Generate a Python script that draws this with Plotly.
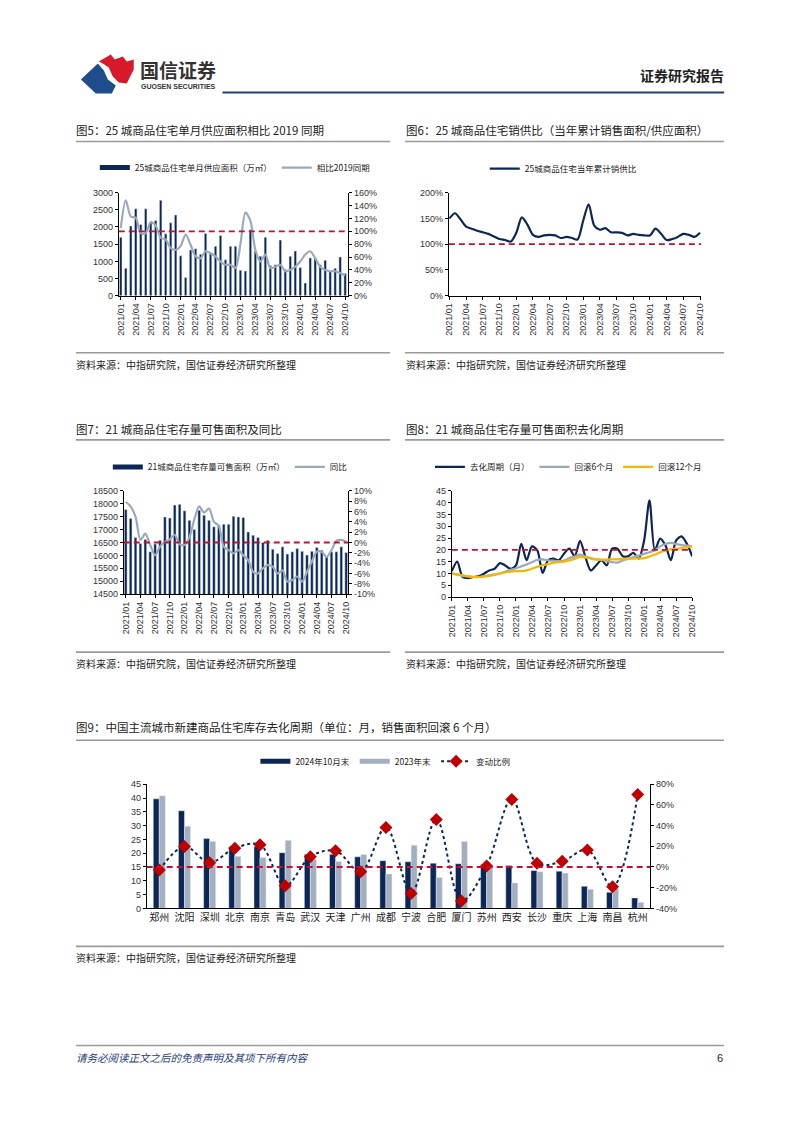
import plotly.graph_objects as go

# page is shown with the browser's default 8px body margin; keep the figure inside the window
OFF = 8
W, H = 802 - 2 * OFF, 1133 - 2 * OFF
K = 1 / 0.99          # small correction observed between planned and photographed positions
def fx(x): return ((401 + (x - 401) * K) - OFF) / W
def fy(y): return 1 - ((566 + (y - 566) * K) - OFF) / H

# ---------------- data ----------------
months = [f"{y}/{m:02d}" for y in range(2021, 2025) for m in range(1, 13)][:46]

supply25 = [1700, 800, 2030, 2530, 2070, 2530, 2140, 2190, 2780, 1800,
            2120, 2350, 1160, 530, 1330, 1370, 1210, 1810, 1220, 1440,
            1750, 1050, 1440, 1440, 740, 720, 1920, 1300, 1150, 1700,
            880, 900, 1620, 760, 1150, 1300, 820, 370, 1100, 1100,
            900, 1030, 720, 800, 1130, 650]
vs2019 = [105, 148, 123, 121, 97, 97, 114, 109, 90, 87,
          74, 71, 77, 95, 79, 61, 58, 69, 66, 61,
          53, 48, 48, 43, 80, 129, 116, 71, 53, 64,
          43, 45, 48, 38, 40, 45, 53, 64, 69, 58,
          45, 40, 38, 38, 35, 32]

ratio25 = [150, 160, 148, 134, 130, 126, 123, 120, 115, 110,
           108, 105, 122, 152, 138, 118, 114, 117, 118, 117,
           112, 114, 112, 109, 145, 177, 136, 128, 131, 123,
           123, 122, 117, 120, 118, 117, 117, 130, 120, 108,
           110, 114, 120, 118, 114, 122]

stock21 = [17780, 17430, 16690, 16460, 16620, 16140, 16440, 16590, 17490, 17450,
           17950, 17980, 17730, 17360, 17000, 17750, 17560, 17360, 17110, 17170,
           17210, 17210, 17520, 17490, 17470, 16910, 16780, 16690, 16500, 16590,
           16240, 16070, 16330, 16050, 16140, 16270, 16160, 16010, 16160, 16310,
           16200, 15950, 16140, 16140, 16330, 16110]
yoy21 = [7.9, 7.0, 5.0, 0.5, 1.7, -0.5, -2.5, -0.8, 0.1, 0.6,
         1.5, -0.3, -0.5, 1.0, 4.5, 7.0, 5.8, 6.6, 4.0, 3.2,
         -0.8, -1.5, -2.1, -1.5, -2.5, -3.4, -5.7, -6.0, -5.0, -4.4,
         -4.7, -6.0, -5.4, -7.6, -7.3, -6.6, -7.6, -5.7, -3.7, -1.8,
         -1.8, -2.8, -1.5, 0.3, 0.5, 0.1]

clear21 = [11, 15, 8.5, 8, 8.5, 8.8, 9.9, 11.3, 12, 14.4,
           13.4, 12, 13.4, 22.6, 15.6, 21.5, 19.8, 10.2, 15.6, 16.3,
           15.6, 18.4, 20.5, 17.3, 23.8, 17, 11.3, 13.4, 15.6, 13.4,
           20.5, 20.5, 17.3, 17.3, 18.7, 16.3, 24, 41, 19.8, 24.8,
           21.9, 15.6, 24, 25.7, 22.6, 17.3]
roll6 = [10, 9.5, 9, 8.8, 8.5, 8.5, 8.8, 9.2, 9.6, 10,
         10.8, 11.5, 12.2, 13, 13.8, 14.8, 15.8, 16, 15.6, 15.4,
         15.2, 15.5, 16.5, 17.2, 18, 17.2, 16.5, 16, 15.8, 15.2,
         14.8, 14.6, 15.5, 16.2, 17, 17.6, 18.3, 19, 19.8, 21.5,
         22.5, 23, 22.5, 22, 21.8, 21.5]
roll12 = [10, 9.6, 9.2, 8.8, 8.6, 8.5, 8.7, 9, 9.4, 10,
          10.4, 10.8, 11, 11, 11.3, 12, 12.8, 13.5, 14, 14.5,
          14.8, 15, 15.6, 16.2, 17, 16.8, 16.3, 16, 15.9, 15.9,
          16, 16, 16.1, 16.2, 16.3, 16.4, 16.5, 17.2, 18, 19,
          19.8, 20.2, 20.5, 20.8, 21.2, 21.5]

cities = ["郑州", "沈阳", "深圳", "北京", "南京", "青岛", "武汉", "天津", "广州", "成都",
          "宁波", "合肥", "厦门", "苏州", "西安", "长沙", "重庆", "上海", "南昌", "杭州"]
oct2024 = [39.7, 35.4, 25.3, 22.3, 22.4, 20.2, 19.6, 19.6, 18.7, 17.3,
           16.9, 16.4, 16.2, 15.9, 15.5, 13.7, 13.5, 8.0, 5.8, 3.8]
end2023 = [40.8, 29.8, 24.3, 18.9, 18.4, 24.7, 17.8, 17.0, 19.5, 12.5,
           22.9, 11.2, 24.2, 15.7, 9.2, 13.3, 12.8, 6.9, 7.3, 2.2]
chg = [-3, 19.8, 4.2, 18.2, 21.4, -18.2, 10, 15.6, -4.5, 38.3,
       -25.6, 46, -32.8, 1, 65.2, 3.6, 5.5, 16.5, -19.1, 70]

src = "资料来源：中指研究院，国信证券经济研究所整理"

# ---------------- style ----------------
NAVY = "#0C2756"
GREY_LINE = "#9AAABD"
GREY_BAR = "#A3AFBF"
GOLD = "#F5B700"
RED = "#C8102E"
DIAMOND = "#C00000"
FONT = "Liberation Sans, Noto Sans CJK SC, sans-serif"
CJK = "Noto Sans CJK SC, sans-serif"
TICKF = dict(size=9, family=FONT, color="#333")

fig = go.Figure()

def dummy_bar(name, color, legend):
    fig.add_scatter(x=[None], y=[None], mode="lines", line=dict(color=color, width=5),
                    name=name, legend=legend, xaxis="x", yaxis="y")

# chart 1
fig.add_bar(x=months, y=supply25, marker_color=NAVY, width=0.5, xaxis="x", yaxis="y",
            showlegend=False)
dummy_bar("25城商品住宅单月供应面积（万㎡）", NAVY, "legend")
fig.add_scatter(x=months, y=vs2019, mode="lines", name="相比2019同期",
                line=dict(color=GREY_LINE, width=2.2, shape="spline", smoothing=0.8),
                xaxis="x", yaxis="y2", legend="legend")

# chart 2
fig.add_scatter(x=months, y=ratio25, mode="lines", name="25城商品住宅当年累计销供比",
                line=dict(color=NAVY, width=2.2, shape="spline", smoothing=0.8),
                xaxis="x2", yaxis="y3", legend="legend2")

# chart 3
fig.add_bar(x=months, y=stock21, marker_color=NAVY, width=0.55, xaxis="x3", yaxis="y4",
            showlegend=False)
dummy_bar("21城商品住宅存量可售面积（万㎡）", NAVY, "legend3")
fig.add_scatter(x=months, y=yoy21, mode="lines", name="同比",
                line=dict(color=GREY_LINE, width=2.2, shape="spline", smoothing=0.8),
                xaxis="x3", yaxis="y5", legend="legend3")

# chart 4
fig.add_scatter(x=months, y=clear21, mode="lines", name="去化周期（月）",
                line=dict(color=NAVY, width=2.2, shape="spline", smoothing=0.8),
                xaxis="x4", yaxis="y6", legend="legend4")
fig.add_scatter(x=months, y=roll6, mode="lines", name="回滚6个月",
                line=dict(color=GREY_LINE, width=2.2, shape="spline", smoothing=0.8),
                xaxis="x4", yaxis="y6", legend="legend4")
fig.add_scatter(x=months, y=roll12, mode="lines", name="回滚12个月",
                line=dict(color=GOLD, width=2.2, shape="spline", smoothing=0.8),
                xaxis="x4", yaxis="y6", legend="legend4")

# chart 5
fig.add_bar(x=cities, y=oct2024, marker_color=NAVY, width=0.24, offset=-0.24,
            xaxis="x5", yaxis="y7", showlegend=False)
fig.add_bar(x=cities, y=end2023, marker_color=GREY_BAR, width=0.24, offset=0,
            xaxis="x5", yaxis="y7", showlegend=False)
dummy_bar("2024年10月末", NAVY, "legend5")
dummy_bar("2023年末", GREY_BAR, "legend5")
fig.add_scatter(x=cities, y=chg, mode="lines+markers", name="变动比例",
                line=dict(color=NAVY, width=2, dash="dot", shape="spline", smoothing=1.0),
                marker=dict(symbol="diamond", color=DIAMOND, size=10),
                xaxis="x5", yaxis="y8", legend="legend5")

# ---------------- axes ----------------
def month_x(x0, x1, anchor, rng):
    return dict(domain=[fx(x0), fx(x1)], anchor=anchor, type="category",
                categoryorder="array", categoryarray=months, range=rng,
                tickmode="array", tickvals=months[::3], tickangle=-90, tickfont=TICKF,
                showline=True, linecolor="#000", linewidth=1, ticks="outside",
                ticklen=3, tickcolor="#000", showgrid=False, zeroline=False)

def y_ax(ytop, ybot, rng, dtick, anchor, side="left", overlay=None, vals=None, suffix=""):
    d = dict(range=rng, anchor=anchor, side=side, tickfont=TICKF, showline=True,
             linecolor="#000", linewidth=1, ticks="outside", ticklen=3, tickcolor="#000",
             showgrid=False, zeroline=False, tickformat="d")
    if overlay:
        d["overlaying"] = overlay
    else:
        d["domain"] = [fy(ybot), fy(ytop)]
    if vals is not None:
        d["tickmode"] = "array"
        d["tickvals"] = vals
        d["ticktext"] = [f"{v}{suffix}" for v in vals]
    else:
        d["dtick"] = dtick
    return d

pct160 = list(range(0, 161, 20))
pct200 = list(range(0, 201, 50))
pct10 = list(range(-10, 11, 2))
pct80 = list(range(-40, 81, 20))

fig.update_layout(
    xaxis=month_x(118, 348, "y", [-0.4, 45.6]),
    yaxis=y_ax(193, 296, [0, 3000], 500, "x"),
    yaxis2=y_ax(193, 296, [0, 160], None, "x", side="right", overlay="y", vals=pct160, suffix="%"),
    xaxis2=month_x(449, 702, "y3", [-0.1, 45.2]),
    yaxis3=y_ax(193, 296, [0, 200], None, "x2", vals=pct200, suffix="%"),
    xaxis3=month_x(123, 348, "y4", [-0.4, 45.4]),
    yaxis4=y_ax(491, 594, [14500, 18500], 500, "x3"),
    yaxis5=y_ax(491, 594, [-10, 10], None, "x3", side="right", overlay="y4", vals=pct10, suffix="%"),
    xaxis4=month_x(452, 693, "y6", [0, 45]),
    yaxis6=y_ax(491, 597, [0, 45], 5, "x4"),
    xaxis5=dict(domain=[fx(146), fx(651)], anchor="y7", type="category",
                categoryorder="array", categoryarray=cities, range=[-0.5, 19.5],
                tickfont=dict(size=10, family=CJK, color="#222"), showline=True,
                linecolor="#000", linewidth=1, ticks="", showgrid=False, zeroline=False),
    yaxis7=y_ax(784, 908, [0, 45], 5, "x5"),
    yaxis8=y_ax(784, 908, [-40, 80], None, "x5", side="right", overlay="y7", vals=pct80, suffix="%"),
)

def leg(x, y):
    return dict(orientation="h", x=fx(x), y=fy(y), xanchor="left", yanchor="middle",
                font=dict(size=8.5, family=CJK, color="#222"), bgcolor="rgba(0,0,0,0)",
                itemwidth=30, tracegroupgap=0)

fig.update_layout(legend=leg(94, 168), legend2=leg(485, 169), legend3=leg(107, 467),
                  legend4=leg(430, 467), legend5=leg(255, 761))

# ---------------- shapes ----------------
shapes = []
def dashed(xref, yref, yv):
    shapes.append(dict(type="line", xref=xref, yref=yref, x0=0, x1=1, y0=yv, y1=yv,
                       line=dict(color=RED, width=1.8, dash="6px,4px")))
dashed("x domain", "y2", 100)
dashed("x2 domain", "y3", 100)
dashed("x3 domain", "y5", 0)
dashed("x4 domain", "y6", 20)
dashed("x5 domain", "y8", 0)

def rule(x0, x1, y, color="#9a9a9a", w=1.6):
    shapes.append(dict(type="line", xref="paper", yref="paper", x0=fx(x0), x1=fx(x1),
                       y0=fy(y), y1=fy(y), line=dict(color=color, width=w)))

rule(222, 725, 93, color="#1F3E7A", w=2)
for y in (142, 353, 440, 652):
    rule(75, 390, y)
    rule(405, 725, y)
rule(75, 725, 740)
rule(75, 725, 946)
rule(75, 725, 1045)

def path(pts):
    return "M " + " L ".join(f"{fx(x):.5f},{fy(y):.5f}" for x, y in pts) + " Z"

shapes.append(dict(type="path", xref="paper", yref="paper", line=dict(width=0),
                   fillcolor="#1E4C8C",
                   path=path([(80, 80), (97, 64), (103, 71), (107, 80), (115, 86),
                              (111, 94), (95, 94)])))
shapes.append(dict(type="path", xref="paper", yref="paper", line=dict(width=0),
                   fillcolor="#D7192A",
                   path=path([(98, 62), (110, 55), (114, 60), (122, 57), (126, 62),
                              (133, 60), (133, 70), (126, 84), (118, 83), (112, 77),
                              (108, 68), (102, 64)])))
fig.update_layout(shapes=shapes)

# ---------------- text ----------------
ann = []
def text(x, y, s, size=11, color="#222", anchor="left", family=CJK, bold=False, italic=False):
    if bold:
        s = f"<b>{s}</b>"
    if italic:
        s = f"<i>{s}</i>"
    ann.append(dict(xref="paper", yref="paper", x=fx(x), y=fy(y), text=s, showarrow=False,
                    xanchor=anchor, yanchor="middle",
                    font=dict(size=size, color=color, family=family)))

text(137, 70, "国信证券", size=19, color="#333", bold=True)
text(138, 87, "GUOSEN SECURITIES", size=7, color="#333", family=FONT, bold=True)
text(727, 76, "证券研究报告", size=14, color="#222", anchor="right", bold=True)

text(73, 130, "图5：25 城商品住宅单月供应面积相比 2019 同期", size=11.5)
text(404, 130, "图6：25 城商品住宅销供比（当年累计销售面积/供应面积）", size=11.5)
text(73, 429, "图7：21 城商品住宅存量可售面积及同比", size=11.5)
text(404, 429, "图8：21 城商品住宅存量可售面积去化周期", size=11.5)
text(73, 727, "图9：中国主流城市新建商品住宅库存去化周期（单位：月，销售面积回滚 6 个月）", size=11.5)

for (x, y) in ((73, 365), (404, 365), (73, 663), (404, 663), (73, 957)):
    text(x, y, src, size=10)

text(73, 1057, "请务必阅读正文之后的免责声明及其项下所有内容", size=10.5, color="#1F3E7A", italic=True)
text(726, 1057, "6", size=11, color="#222", anchor="right", family=FONT)

fig.update_layout(annotations=ann)

fig.update_layout(width=W, height=H, margin=dict(l=0, r=0, t=0, b=0),
                  paper_bgcolor="white", plot_bgcolor="white", barmode="overlay",
                  font=dict(family=CJK, color="#222"))

fig.write_html("out.html")
